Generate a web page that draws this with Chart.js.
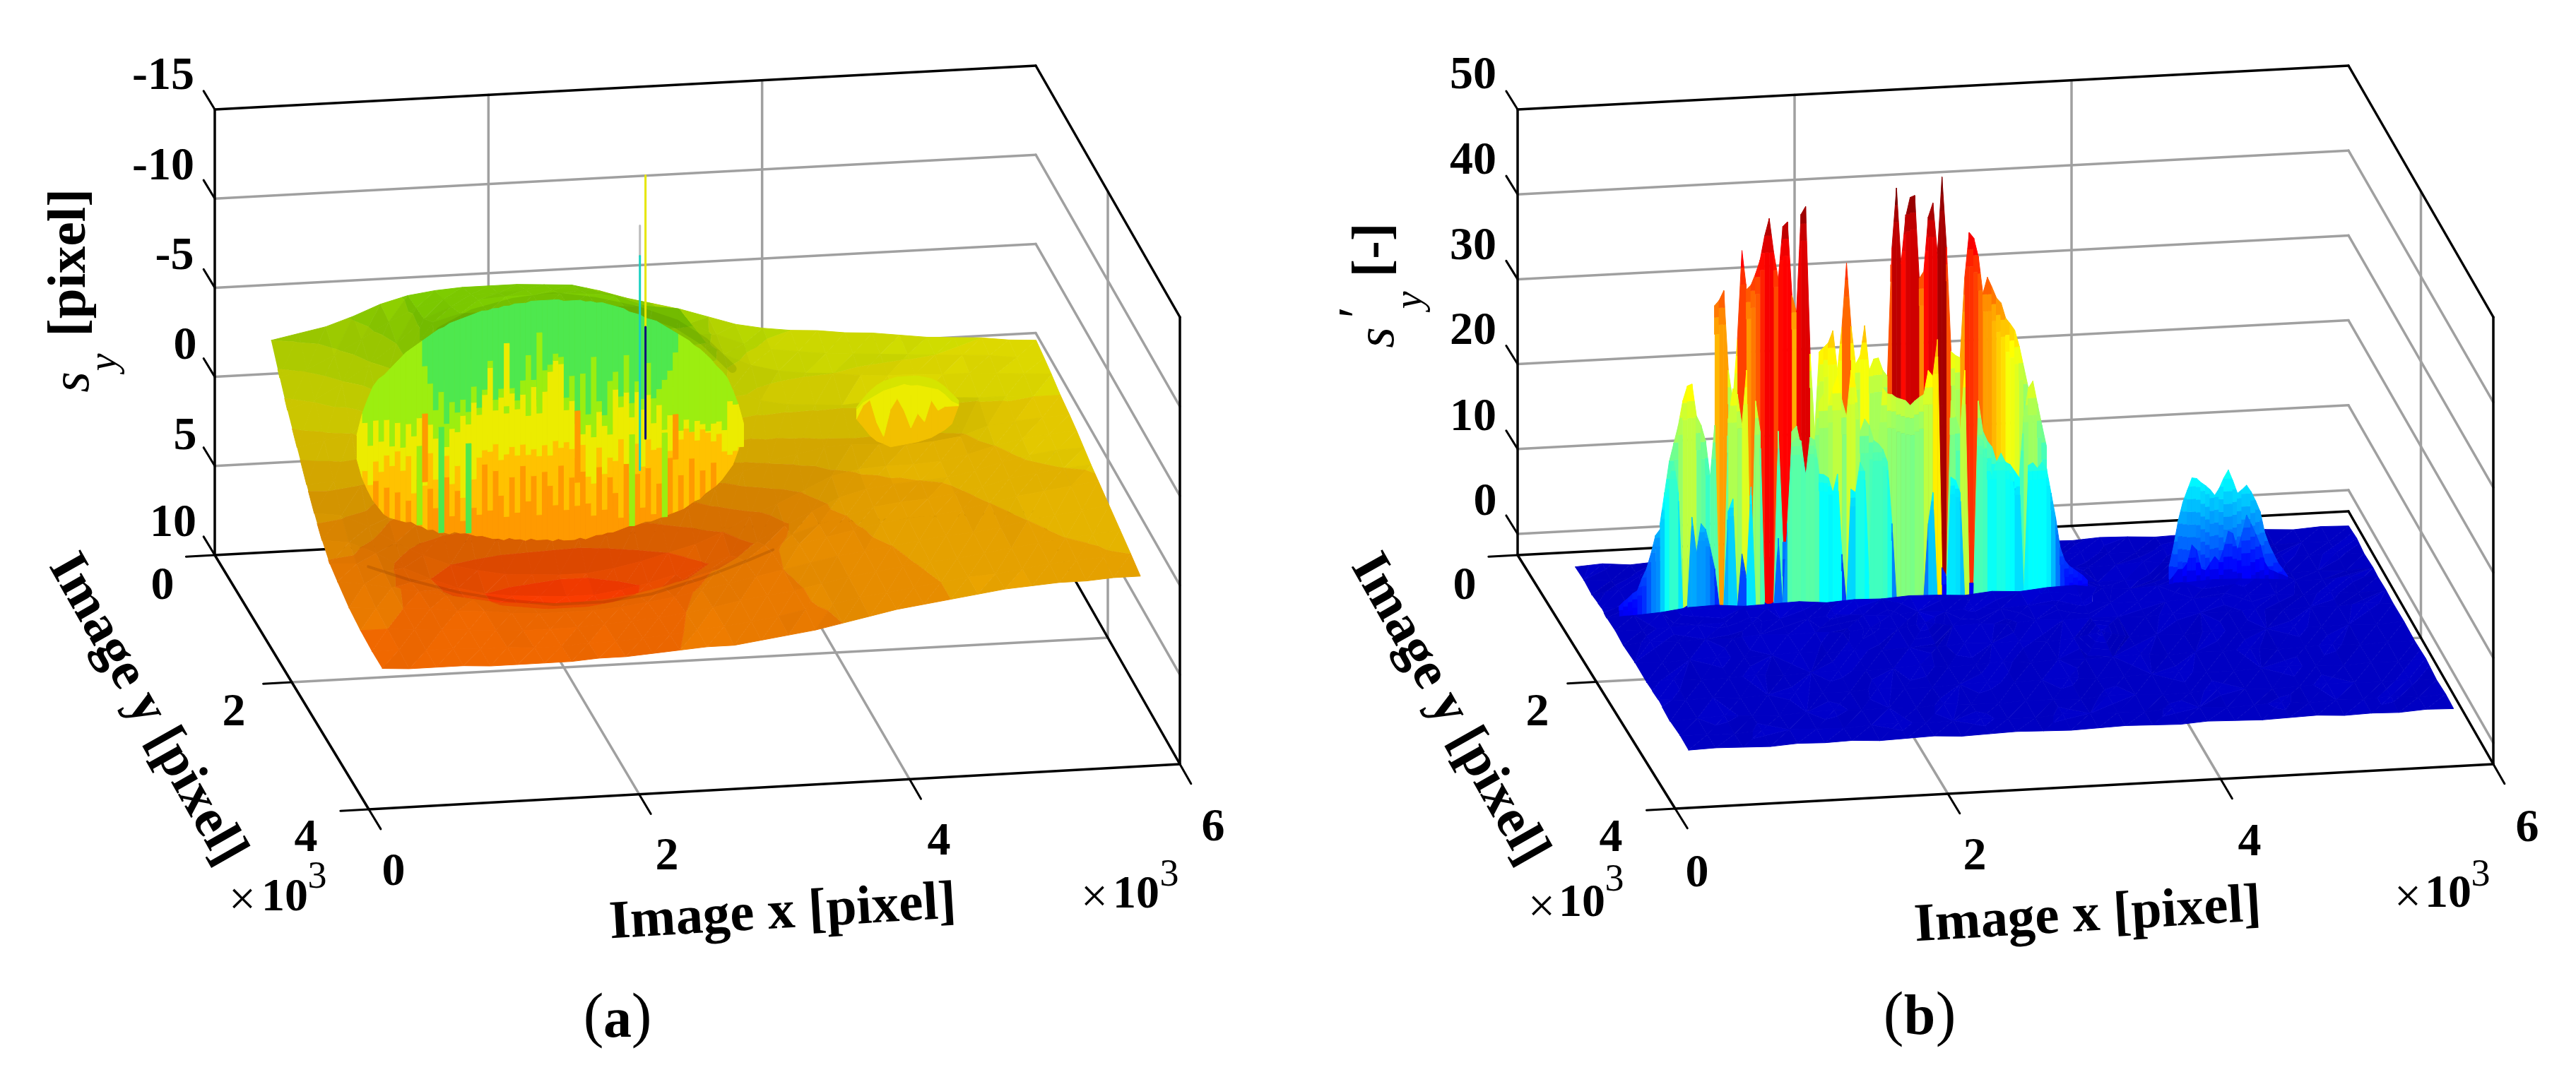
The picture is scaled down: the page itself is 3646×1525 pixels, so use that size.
<!DOCTYPE html>
<html><head><meta charset="utf-8">
<style>html,body{margin:0;padding:0;background:#fff}canvas{position:absolute;top:0}</style>
<script src="https://cdn.jsdelivr.net/npm/chart.js@4"></script>
</head><body>
<canvas id="pa" width="1823" height="1525" style="left:0"></canvas>
<canvas id="pb" width="1823" height="1525" style="left:1823px"></canvas>
<script>
// ---------- data: shared axes ----------
const xTicks=[0,2,4,6];
const yTicks=[0,2,4];
const zTicksA=[-15,-10,-5,0,5,10];
const zTicksB=[0,10,20,30,40,50];
const gridX=[250,450,650,850,1050,1250,1450,1650,1850,2050,2250,2450,2650,2850,3050,3250,3450,3650,3850,4050,4250,4450,4650,4850,5050,5250,5450,5650,5850];

// ---------- panel (a): surface s_y ----------
const rowsA=[577,800,1000,1250,1500,1700,1900,2100,2300,2600,2900,3200,3468];
const surfaceA=[
[-4.0,-4.3,-4.6,-5.1,-5.7,-6.1,-6.3,-6.4,-6.4,-6.4,-6.3,-6.2,-5.8,-5.3,-4.9,-4.5,-4.0,-3.5,-3.2,-3.0,-2.9,-2.7,-2.6,-2.4,-2.2,-2.1,-2.0,-1.8,-1.7],
[-2.7,-3.1,-3.8,-4.6,-5.5,-6.2,-6.6,-6.8,-6.8,-6.9,-6.8,-6.7,-6.4,-5.8,-5.2,-4.5,-3.8,-3.2,-2.8,-2.6,-2.4,-2.3,-2.2,-2.1,-2.0,-1.9,-1.8,-1.6,-1.5],
[-1.6,-2.1,-2.9,-3.9,-5.0,-6.3,-6.9,-7.2,-7.3,-7.3,-7.3,-7.2,-7.0,-6.4,-5.6,-4.6,-3.4,-2.7,-2.3,-2.1,-2.0,-1.8,-1.7,-1.7,-1.6,-1.6,-1.5,-1.4,-1.3],
[-0.4,-0.7,-1.0,-2.5,-5.0,-7.0,-7.4,-7.4,-7.4,-7.4,-7.4,-7.4,-7.3,-7.2,-7.0,-5.0,-2.4,-1.6,-1.3,-1.2,-1.1,-1.2,-1.4,-1.4,-1.2,-1.1,-1.1,-1.0,-1.0],
[0.8,0.7,1.0,2.9,3.4,3.9,4.1,4.4,4.5,4.6,4.7,4.5,4.2,3.8,3.3,2.3,1.4,0.9,0.6,0.3,0.2,0.3,0.4,0.3,0.1,-0.4,-0.6,-0.7,-0.8],
[1.7,1.9,2.6,3.6,4.4,5.0,5.4,5.7,5.8,5.9,5.9,5.7,5.4,5.0,4.6,4.0,3.2,2.6,1.9,1.2,0.9,0.8,0.8,0.7,0.4,0.0,-0.3,-0.5,-0.6],
[2.5,2.7,3.4,4.3,5.0,5.6,6.0,6.2,6.3,6.4,6.4,6.2,5.9,5.5,5.1,4.6,3.9,3.1,2.4,1.7,1.3,1.1,1.0,0.9,0.6,0.2,-0.1,-0.3,-0.35],
[3.1,3.2,3.7,4.4,4.9,5.5,6.0,6.2,6.3,6.4,6.3,6.1,5.7,5.1,4.6,4.0,3.4,2.9,2.4,2.0,1.6,1.4,1.3,1.1,0.8,0.4,0.2,0.0,-0.1],
[3.4,3.6,3.9,4.2,4.5,4.8,5.1,5.2,5.3,5.3,5.2,5.0,4.7,4.3,3.9,3.5,3.1,2.7,2.4,2.1,1.8,1.6,1.5,1.3,1.0,0.7,0.5,0.3,0.1],
[3.8,3.9,4.0,4.1,4.3,4.4,4.6,4.7,4.7,4.7,4.6,4.4,4.2,3.9,3.6,3.3,3.0,2.7,2.4,2.2,2.0,1.8,1.6,1.5,1.3,1.0,0.8,0.6,0.4],
[4.0,4.0,4.1,4.2,4.3,4.4,4.5,4.5,4.5,4.4,4.3,4.2,4.0,3.8,3.5,3.3,3.1,2.8,2.5,2.3,2.1,1.9,1.8,1.6,1.4,1.2,1.0,0.9,0.7],
[4.1,4.1,4.2,4.2,4.3,4.3,4.4,4.4,4.3,4.3,4.2,4.1,3.9,3.8,3.6,3.4,3.1,2.9,2.6,2.4,2.2,2.0,1.8,1.7,1.5,1.3,1.2,1.1,1.0],
[4.1,4.2,4.2,4.2,4.3,4.3,4.3,4.3,4.2,4.2,4.1,4.0,3.9,3.9,3.7,3.5,3.3,3.0,2.7,2.4,2.2,2.0,1.8,1.6,1.5,1.4,1.4,1.3,1.3]];
const levelsA=[-99,-7.5,-6,-5,-4,-3,-2,-1,0,1,2,3,4,5,6,99];
const bandColorsA=['#5cd020','#80d000','#94d800','#aadc00','#c0e000','#d4e000','#e2dc00','#e8cc00','#eab800','#eaa400','#ec9000','#ee7c00','#f06800','#f45000','#fa3c00'];

// large crater wall (row y=1500)
const wallRowY=1500;
const wallX=[618,658,698,738,778,818,858,898,938,978,1018,1058,1098,1138,1178,1218,1258,1298,1338,1378,1418,1458,1498,1538,1578,1618,1658,1698,1738,1778,1818,1858,1898,1938,1978,2018,2058,2098,2138,2178,2218,2258,2298,2338,2378,2418,2458,2498,2538,2578,2618,2658,2698,2738,2778,2818,2858,2898,2938,2978,3018,3058,3098,3138,3178,3218,3258,3298,3338,3378,3418,3458];
const wallBot=[-0.5,0.6,1.3,1.9,2.3,2.7,2.9,3.0,3.1,3.2,3.2,3.4,3.5,3.7,3.7,3.9,3.9,4.0,3.9,4.0,4.0,4.1,4.2,4.2,4.3,4.4,4.4,4.5,4.4,4.5,4.5,4.6,4.5,4.6,4.6,4.6,4.7,4.6,4.7,4.7,4.7,4.6,4.7,4.6,4.5,4.5,4.4,4.4,4.3,4.2,4.1,4.1,4.0,3.9,3.9,3.8,3.7,3.6,3.5,3.4,3.3,3.1,2.9,2.8,2.5,2.3,2.1,1.8,1.4,1.0,0.2,-0.8];
const wallOrange=[-0.5,0.6,1.3,0.8,2.3,1.2,2.9,1.5,3.1,2.0,3.2,0.9,3.5,1.4,2.5,3.9,0.8,3.0,1.6,3.3,1.2,2.6,3.0,0.2,2.8,0.6,2.0,3.2,1.0,3.0,0.4,2.4,1.0,3.2,0.8,1.6,2.7,0.5,3.0,1.2,2.8,0.9,2.7,3.4,0.7,3.1,1.3,2.2,3.6,0.6,3.4,1.2,3.1,0.9,3.5,1.8,2.6,0.4,3.5,1.4,3.3,0.5,2.9,1.2,2.5,0.8,2.1,1.8,1.4,1.0,0.2,-0.8];
const wallAmber=[-0.5,0.2,1.0,-0.3,0.3,-0.6,0.0,-0.8,0.3,-0.5,1.6,-0.4,1.2,-0.6,0.9,1.4,-0.4,1.2,0.2,2.0,0.6,1.0,-0.2,-0.6,-0.5,-0.9,0.0,-0.3,-0.7,-0.2,-0.8,-0.2,-0.5,-0.1,-0.7,-0.1,-0.9,-0.5,-0.8,-0.4,0.1,-0.6,1.2,1.6,-0.4,1.1,0.2,0.4,-0.8,0.6,1.1,-0.5,0.8,-0.7,-0.1,-0.2,-0.8,0.0,-1.2,-0.6,-1.2,-1.3,-0.5,-1.1,-0.9,-0.4,-0.8,0.2,0.4,0.2,0.0,-0.8];
const wallYellow=[-1.8,-2.5,-1.2,-2.6,-1.4,-2.6,-1.1,-2.4,-1.0,-2.3,-1.6,-2.6,-1.0,-2.2,-1.4,-2.0,-0.9,-1.9,-1.7,-2.6,-2.1,-3.3,-2.6,-3.7,-5.2,-2.8,-3.5,-2.6,-3.7,-2.8,-3.6,-2.4,-4.0,-2.9,-3.7,-4.8,-5.4,-5.2,-2.6,-3.1,-1.8,-1.2,-1.7,-1.0,-2.4,-1.6,-1.1,-3.6,-2.6,-3.4,-2.0,-3.4,-2.4,-3.2,-1.6,-2.6,-1.2,-2.0,-1.6,-1.1,-1.7,-1.0,-1.6,-1.4,-1.0,-1.4,-1.5,-1.0,-2.6,-2.4,-2.4,-1.3];
const wallLime=[-1.8,-3.0,-3.8,-4.5,-4.9,-5.1,-5.4,-5.7,-6.0,-6.3,-6.5,-6.7,-5.5,-4.5,-3.0,-4.0,-2.2,-3.4,-2.8,-3.5,-2.8,-4.2,-3.0,-4.0,-5.6,-3.4,-4.0,-5.2,-4.0,-3.3,-4.4,-5.8,-4.4,-3.3,-4.9,-5.2,-5.8,-5.6,-3.3,-4.5,-2.5,-4.6,-2.3,-5.5,-3.0,-2.2,-4.1,-4.6,-3.2,-5.5,-2.8,-4.0,-3.0,-5.0,-3.0,-3.5,-4.0,-4.5,-5.5,-6.5,-6.3,-6.1,-5.8,-5.6,-5.3,-5.0,-4.6,-4.3,-3.9,-3.2,-2.4,-1.3];
const wallTop=[-1.8,-3.0,-3.8,-4.5,-4.9,-5.1,-5.4,-5.7,-6.0,-6.3,-6.5,-6.7,-6.9,-7.1,-7.3,-7.5,-7.6,-7.8,-7.9,-8.0,-8.1,-8.2,-8.3,-8.4,-8.4,-8.5,-8.5,-8.6,-8.6,-8.7,-8.7,-8.7,-8.8,-8.8,-8.8,-8.8,-8.8,-8.8,-8.7,-8.7,-8.7,-8.7,-8.6,-8.6,-8.5,-8.5,-8.4,-8.3,-8.2,-8.1,-7.9,-7.8,-7.7,-7.5,-7.4,-7.3,-7.1,-6.9,-6.7,-6.5,-6.3,-6.1,-5.8,-5.6,-5.3,-5.0,-4.6,-4.3,-3.9,-3.2,-2.4,-1.3];
const wallColors=['#ff9a00','#ffc200','#ecec00','#9cee10','#4ee84e'];
const streakCol=[11,15,20,50,56,12,40,58,27,33];
const streakFrom=[3.4,3.9,4.0,4.1,3.7,1.0,1.5,0.5,-3.0,-2.5];
const streakTo=[-1.0,-2.0,-1.0,-1.0,-1.0,-2.8,-2.5,-2.0,-6.5,-7.0];
const streakColors=['#9cee10','#4ee84e','#4ee84e','#9cee10','#9cee10','#ff9a00','#ff9a00','#ff9a00','#ecec00','#9cee10'];

// small crater wall (row y=1300)
const smallRowY=1300;
const smallX=[4340,4390,4440,4490,4540,4590,4640,4690,4740,4790,4840,4890,4940,4990,5040,5090];
const smallBot=[-0.47,0.0,0.5,0.83,1.0,1.2,1.15,1.1,1.05,1.0,0.9,0.8,0.6,0.4,0.1,-0.9];
const smallMid=[-0.47,-1.2,-1.5,-0.2,0.6,-0.9,-1.5,-0.8,0.2,-0.6,-0.1,-1.3,-0.7,-0.9,-0.9,-0.9];
const smallUpper=[-1.0,-1.4,-1.6,-1.8,-2.0,-2.1,-2.2,-2.3,-2.2,-2.2,-2.1,-2.0,-1.9,-1.6,-1.2,-1.0];
const smallTop=[-1.1,-1.6,-2.0,-2.3,-2.5,-2.6,-2.7,-2.7,-2.7,-2.7,-2.6,-2.5,-2.3,-2.0,-1.6,-1.2];
const smallColors=['#f2c000','#ecec00','#d6e400'];

// outlier needles
const needleX=[2738,2738,2697,2697];
const needleFrom=[-15.5,-7,-12.7,-11];
const needleTo=[-7,-0.75,-11,1];
const needleColors=['#e6e600','#10107a','#bcbcbc','#18d0c0'];

// shaded ridges
const arcY=2150;
const arcX=[520,816,1176,1530,1890,2250,2604,2964,3318,3498];
const arcZ=[3.2,4.05,4.9,5.5,5.9,5.9,5.6,4.9,4.0,3.5];
const rimShadeX=[1230,1470,1766,2062,2366,2660,2961,3170,3376];
const rimShadeZ=[-7.4,-8.3,-8.8,-9.0,-8.6,-8.0,-7.1,-6.0,-4.4];

// ---------- panel (b): surface s'_y ----------
const rowsB=[577,800,1000,1250,1380,1600,1800,2100,2400,2700,3000,3250,3468];
const surfaceB=[
[.2,.4,.1,.3,.5,.2,.3,.1,.4,.2,.3,.5,.1,.3,.2,.4,.1,.3,.2,.4,.3,.1,.2,.4,.2,.3,.1,.3,.2],
[.3,.1,.4,.2,.3,.5,.3,.2,.3,.4,.2,.3,.4,.3,.5,.2,.4,.2,.5,.2,.1,.4,.3,.2,.5,.1,.3,.2,.4],
[.1,.5,.2,.4,.3,.4,.6,.5,.4,.5,.6,.4,.5,.6,.4,.5,.3,.4,.2,.3,.5,.2,.4,.3,.1,.4,.2,.4,.1],
[.4,.2,.3,.6,.7,.8,.7,.9,.8,.7,.9,.8,.7,.8,.9,.7,.8,.6,.3,.4,.2,.5,.6,.7,.5,.2,.3,.1,.3],
[.2,.3,.5,.9,1.0,.7,.8,.9,.6,.8,.7,.9,.8,.6,.9,.7,1.0,1.1,.6,.3,.5,.7,.9,.8,.6,.3,.2,.4,.2],
[.3,.2,.4,.5,.6,.4,.7,.5,.8,.6,.4,.7,.5,.8,.5,.7,.6,.8,.5,.4,.3,.5,.4,.6,.5,.2,.4,.1,.3],
[.1,.4,.2,.3,.2,.5,.3,.4,.2,.6,.3,.9,.3,.4,.2,.5,.3,.4,.3,.2,.4,.3,.2,.4,.1,.3,.2,.4,.2],
[.3,.1,.3,.4,.2,.3,.5,.2,.4,.2,.3,.2,.5,.3,.4,.2,.4,1.0,.2,.3,.1,.4,.2,.3,.4,.2,.3,.1,.3],
[.2,.4,.1,.2,.4,.1,.3,.4,.2,.3,.5,.1,.2,.4,.1,.3,.2,.3,.4,.1,.3,.2,.4,.1,.2,.4,.1,.3,.2],
[.4,.2,.3,.1,.3,.4,.2,.1,.4,.2,.1,.3,.4,.2,.3,.4,.1,.2,.3,.4,.2,.1,.3,.4,.2,.1,.3,.2,.4],
[.1,.3,.4,.2,.1,.3,.4,.2,.3,.1,.4,.2,.1,.3,.2,.1,.4,.3,.1,.2,.4,.3,.1,.2,.4,.3,.2,.4,.1],
[.3,.2,.1,.4,.3,.2,.1,.3,.4,.2,.3,.4,.2,.1,.4,.3,.2,.1,.4,.3,.1,.2,.4,.1,.3,.2,.4,.1,.3],
[.2,.3,.2,.1,.3,.2,.3,.1,.2,.3,.1,.2,.3,.2,.1,.2,.3,.2,.1,.3,.2,.1,.2,.3,.1,.2,.1,.3,.2]];
const levelsB=[-1,-.1,.1,.3,.5,.7,.9,1.1,1.3,9];
const profileRowY=1380;
const profileRimZ=0.2;
const profileX=[343,376,409,442,475,508,541,574,607,640,673,706,739,772,805,838,871,904,937,970,1003,1036,1069,1102,1135,1168,1201,1234,1267,1300,1333,1366,1399,1432,1465,1498,1531,1564,1597,1630,1663,1696,1729,1762,1795,1828,1861,1894,1927,1960,1993,2026,2059,2092,2125,2158,2191,2224,2257,2290,2323,2356,2389,2422,2455,2488,2521,2554,2587,2620,2653,2686,2719,2752,2785,2818,2851,2884,2917,2950,2983,3016,3049,3082,3115,3148,3181,3214,3247,3280,3313,3346,3379,3412,3445,3478,3511,3544,3577,3610,3643,3676,3709,3742];
const rearStart=21;
const rearProfile=[36.3,36.9,38,28.6,24.9,32.2,42.6,38,38.5,39.8,41.4,44.2,46.2,42.1,39,45.2,45.7,37,35,46.5,47.4,30,20.8,30.2,30.7,31.2,32.6,27.9,33,40.5,33,28.5,29.5,33,27.7,29,29.1,27.6,26.9,42,49,40,45.5,47.8,48,38.2,39,45.4,47,41,50,41.7,29.4,28.9,28.6,38,43.3,42.6,40.4,36,37.9,36.7,35.4,34.8,33,32.3,31.5,29.6,27.1,24.6];
const midStart=9;
const midProfile=[11,14.6,18.2,20.3,22.4,25.3,27,27.2,23.4,22.3,20.4,16.1,22.2,0.8,0.8,22.9,26.4,25.7,22,28.5,1.5,24.8,21.2,1,0.6,1,21.1,8,8,21,21.6,19.1,15.9,17.3,19.7,24.4,25.2,23.6,25.8,27.2,24.3,22.4,27.8,26,20.5,22,21.2,19.4,19,25.5,24.8,24.7,24.3,24.1,23.9,23.3,23.8,24.2,24.5,27.3,26.6,30.9,4,3,23.6,21.7,19.9,27.1,2,2,23.4,19.8,18.6,17.9,16.1,16.7,16,15.7,14.9,14.1,21.3,24.6,25.4,22.7,20.1,17.6];
const frontProfile=[1.5,2,2.4,2.9,3.2,4.6,5.7,7.5,9.6,10.3,13.5,16,18.1,14.5,.8,1.1,11.5,7.2,10.7,10,7.8,5.3,.9,.9,12,13.4,.4,6.9,4,14.7,.7,.3,.2,.1,.1,8.5,.1,10.2,19.6,20.2,19.8,15.5,20.2,19.8,15.8,15.7,15.3,13.5,15.7,6.2,.2,13.8,13.4,16.9,15.8,2.5,18.9,19,18.3,16.8,9.5,.5,.3,.2,.2,.3,.6,.6,9.3,12.9,.2,.2,.2,14.6,14.2,12.7,.3,.3,.3,19.1,18.7,16.1,14.3,16.1,17.1,16,15.7,12.3,14.1,.3,15.5,15.8,15.1,15.8,15,12.1,9.2,5.6,4.1,3.4,3,2.6,2.2,1.6];
const bumpX=[4336,4369,4402,4435,4468,4501,4534,4567,4600,4633,4666,4699,4732,4765,4798,4831,4864,4897,4930,4963,4996,5029,5062,5095,5128,5161,5194];
const bumpRear=[2.8,5.2,8.1,10.2,11.6,13,12.9,12.4,12,11.5,10.8,11.6,12.8,13.7,12.4,10.9,11.3,11.8,11,9.9,8.6,6.1,4.6,3.5,2.4,1.7,.9];
const bumpFront=[1,1.6,2.3,2.3,3,5.1,4.5,2.2,2,2.8,3.6,3,4.4,6.5,6.2,4.2,6,8.3,7.2,6,4.7,2.6,1.7,1.5,1.2,1,.7];

// ---------- layout (pixels) ----------
const cornersA=[[304,786],[1466,724],[522,1146],[1670,1082],[304,155],[1466,93],[522,515],[1670,449]];
const cornersB=[[2148,786],[3324,724],[2371,1145],[3529,1082],[2148,155],[3324,93],[2371,514],[3529,449]];
const F='"Liberation Serif"';
const BOLD='bold 66px '+F, TITLE='bold 77px '+F, REG='68px '+F, SUP='54px '+F, ITAL='italic 76px '+F, SUB='italic 56px '+F, CAP='86px '+F, CAPB='bold 80px '+F;
const textA=[
['-15',231,109,0,BOLD],['-10',231,237,0,BOLD],['-5',247,364,0,BOLD],['0',262,491,0,BOLD],['5',262,619,0,BOLD],['10',245,742,0,BOLD],
['0',230,831,0,BOLD],['2',331,1010,0,BOLD],['4',433,1188,0,BOLD],['×',343,1277,0,REG],['10',403,1272,0,BOLD],['3',449,1243,0,SUP],
['0',557,1236,0,BOLD],['2',944,1214,0,BOLD],['4',1329,1193,0,BOLD],['6',1717,1173,0,BOLD],['×',1549,1273,0,REG],['10',1608,1268,0,BOLD],['3',1655,1240,0,SUP],
['Image x [pixel]',1108,1294,-3.4,TITLE],['Image y [pixel]',207,1005,60.5,TITLE],
['[pixel]',100,372,-90,TITLE],['s',105,541,-90,ITAL],['y',149,513,-90,SUB],
['(',840,1443,0,CAP],['a',874,1447,0,CAPB],[')',908,1443,0,CAP]];
const textB=[
['50',2085,108,0,BOLD],['40',2085,229,0,BOLD],['30',2085,350,0,BOLD],['20',2085,470,0,BOLD],['10',2085,592,0,BOLD],['0',2102,712,0,BOLD],
['0',2073,831,0,BOLD],['2',2176,1010,0,BOLD],['4',2280,1188,0,BOLD],['×',2182,1287,0,REG],['10',2239,1280,0,BOLD],['3',2285,1247,0,SUP],
['0',2402,1238,0,BOLD],['2',2795,1214,0,BOLD],['4',3184,1194,0,BOLD],['6',3577,1174,0,BOLD],['×',3408,1273,0,REG],['10',3465,1267,0,BOLD],['3',3511,1240,0,SUP],
['Image x [pixel]',2955,1298,-3.4,TITLE],['Image y [pixel]',2050,1005,60.5,TITLE],
['[-]',1946,354,-90,TITLE],['s',1952,478,-90,ITAL],['′',1926,447,-90,ITAL],['y',1997,425,-90,SUB],
['(',2680,1441,0,CAP],['b',2717,1443,0,CAPB],[')',2754,1441,0,CAP]];
const BLACK='#000000', GRAY='#a0a0a0';

// ---------- helpers ----------
function projector(c,zBot,zTop){
  const mix=(a,b,t)=>[a[0]+(b[0]-a[0])*t,a[1]+(b[1]-a[1])*t];
  return (x,y,z)=>{
    const u=x/6000,v=y/4000,w=(z-zBot)/(zTop-zBot);
    const low=mix(mix(c[0],c[1],u),mix(c[2],c[3],u),v);
    const high=mix(mix(c[4],c[5],u),mix(c[6],c[7],u),v);
    return mix(low,high,w);
  };
}
function Layer(P){
  this.P=P;this.sets=[];
  this.poly=(pts,color)=>{
    let last=this.sets[this.sets.length-1];
    if(!last||!last.fill||last.backgroundColor!==color){
      last={data:[],showLine:true,fill:'shape',backgroundColor:color,borderColor:color,borderWidth:1,pointRadius:0,tension:0,spanGaps:false};
      this.sets.push(last);
    }else last.data.push({x:null,y:null});
    for(const p of pts){const q=P(p[0],p[1],p[2]);last.data.push({x:q[0],y:q[1]});}
  };
  this.line=(pts,color,w)=>{
    this.sets.push({data:pts.map(p=>{const q=P(p[0],p[1],p[2]);return{x:q[0],y:q[1]};}),showLine:true,fill:false,borderColor:color,borderWidth:w,pointRadius:0,tension:0,borderCapStyle:'round'});
  };
}
function cut(poly,f){
  const r=[];
  for(let i=0;i<poly.length;i++){
    const a=poly[i],b=poly[(i+1)%poly.length],fa=f(a),fb=f(b);
    if(fa>=0)r.push(a);
    if((fa>0&&fb<0)||(fa<0&&fb>0)){const t=fa/(fa-fb);r.push([a[0]+(b[0]-a[0])*t,a[1]+(b[1]-a[1])*t,a[2]+(b[2]-a[2])*t]);}
  }
  return r;
}
const clipZ=(poly,lo,hi)=>cut(cut(poly,p=>p[2]-lo),p=>hi-p[2]);
function jet(t){
  t=Math.max(0,Math.min(1,Math.round(t*128)/128));
  const c=v=>Math.round(255*Math.max(0,Math.min(1,1.5-Math.abs(4*t-v))));
  return [c(3),c(2),c(1)];
}
const rgb=a=>'rgb('+a[0]+','+a[1]+','+a[2]+')';
const hexRgb=h=>[parseInt(h.slice(1,3),16),parseInt(h.slice(3,5),16),parseInt(h.slice(5,7),16)];
const dim=(a,s)=>a.map(v=>Math.round(v*s));
function drawSurface(L,xs,ys,zz,levels,colorOf,r0,r1,slopeK,maxDim){
  for(let r=r0;r<r1;r++)for(let c=0;c<xs.length-1;c++){
    const A=[xs[c],ys[r],zz[r][c]],B=[xs[c+1],ys[r],zz[r][c+1]],C=[xs[c],ys[r+1],zz[r+1][c]],D=[xs[c+1],ys[r+1],zz[r+1][c+1]];
    for(const tri of [[A,B,C],[B,D,C]]){
      const [p,q,s]=tri;
      const ux=(q[0]-p[0])/1000,uy=(q[1]-p[1])/1000,uz=q[2]-p[2],vx=(s[0]-p[0])/1000,vy=(s[1]-p[1])/1000,vz=s[2]-p[2];
      const nx=uy*vz-uz*vy,ny=uz*vx-ux*vz,nz=ux*vy-uy*vx;
      const g=Math.hypot(nx,ny)/Math.abs(nz);
      const shade=Math.round((1-Math.min(maxDim,slopeK*g))*50)/50;
      for(let i=0;i<levels.length-1;i++){
        const pg=clipZ(tri,levels[i],levels[i+1]);
        if(pg.length>=3)L.poly(pg,rgb(dim(colorOf(i,levels),shade)));
      }
    }
  }
}
function drawBox(L,zs,zBot,zTop){
  for(const z of zs){
    if(z!==zTop&&z!==zBot){
      L.line([[0,0,z],[6000,0,z]],GRAY,3.5);
      L.line([[6000,0,z],[6000,4000,z]],GRAY,3.5);
    }
  }
  for(const t of xTicks)if(t>0&&t<6){
    L.line([[t*1000,0,zBot],[t*1000,0,zTop]],GRAY,3.5);
    L.line([[t*1000,0,zBot],[t*1000,4000,zBot]],GRAY,3.5);
  }
  for(const t of yTicks)if(t>0&&t<4){
    L.line([[6000,t*1000,zBot],[6000,t*1000,zTop]],GRAY,3.5);
    L.line([[0,t*1000,zBot],[6000,t*1000,zBot]],GRAY,3.5);
  }
  for(const s of [
    [[0,0,zTop],[6000,0,zTop]],[[6000,0,zTop],[6000,4000,zTop]],[[6000,4000,zTop],[6000,4000,zBot]],
    [[6000,4000,zBot],[0,4000,zBot]],[[0,4000,zBot],[0,0,zBot]],[[0,0,zBot],[0,0,zTop]],
    [[0,0,zBot],[6000,0,zBot]],[[6000,0,zBot],[6000,4000,zBot]]])L.line(s,BLACK,3.5);
  for(const z of zs)L.line([[0,0,z],[0,-290,z]],BLACK,3);
  for(const t of xTicks)L.line([[t*1000,4000,zBot],[t*1000,4310,zBot]],BLACK,3);
  for(const t of yTicks)L.line([[0,t*1000,zBot],[-210,t*1000,zBot]],BLACK,3);
}
function columnWall(L,xs,y,bounds,colors){
  const bot=bounds[0],top=bounds[bounds.length-1];
  for(let k=0;k<xs.length-1;k++)for(let b=0;b<colors.length;b++){
    const lo=bounds[b][k],hi=bounds[b+1][k];
    if(lo===hi)continue;
    // outer rim and top edge follow the neighbouring column; inner bands stay vertical streaks
    const lo2=lo===bot[k]?bot[k+1]:lo, hi2=hi===top[k]?top[k+1]:hi;
    L.poly([[xs[k],y,lo],[xs[k+1],y,lo2],[xs[k+1],y,hi2],[xs[k],y,hi]],colors[b]);
  }
}
function zigzagWall(L,xs,y,bounds,colors){
  for(let k=0;k<xs.length-1;k++)for(let b=0;b<colors.length;b++){
    const lo=bounds[b],hi=bounds[b+1];
    L.poly([[xs[k],y,lo[k]],[xs[k+1],y,lo[k+1]],[xs[k+1],y,hi[k+1]],[xs[k],y,hi[k]]],colors[b]);
  }
}
function strips(L,xs,zs,y,rim,boost,span,step){
  for(let k=0;k<zs.length-1;k++){
    const z1=zs[k],z2=zs[k+1],m=Math.max(z1,z2);
    if(m<=rim)continue;
    const q=[[xs[k],y,rim],[xs[k+1],y,rim],[xs[k+1],y,z2],[xs[k],y,z1]];
    const base=m-span;
    const lv=[-99,base];
    for(let v=base+step;v<m;v+=step)lv.push(v);
    lv.push(99);
    for(let i=0;i<lv.length-1;i++){
      const pg=clipZ(q,lv[i],lv[i+1]);
      if(pg.length<3)continue;
      const mid=i===0?base:(lv[i]+Math.min(lv[i+1],m))/2;
      L.poly(pg,rgb(jet((mid+boost)/50)));
    }
  }
}
function textPlugin(items){
  return {id:'labels',afterDatasetsDraw(chart){
    const c=chart.ctx,sx=chart.scales.x,sy=chart.scales.y;
    c.save();c.fillStyle='#000';c.textAlign='center';c.textBaseline='middle';
    for(const [t,x,y,rot,font] of items){
      c.save();c.translate(sx.getPixelForValue(x),sy.getPixelForValue(y));c.rotate(rot*Math.PI/180);
      c.font=font;c.fillText(t,0,0);c.restore();
    }
    c.restore();
  }};
}
function makeChart(id,sets,xMin,xMax,items){
  return new Chart(document.getElementById(id),{
    type:'scatter',
    data:{datasets:sets.slice().reverse()},
    options:{responsive:false,animation:false,devicePixelRatio:1,events:[],layout:{padding:0},
      plugins:{legend:{display:false},tooltip:{enabled:false},title:{display:false}},
      scales:{x:{type:'linear',display:false,min:xMin,max:xMax},y:{type:'linear',display:false,min:0,max:1525,reverse:true}}},
    plugins:[textPlugin(items)]
  });
}

// ---------- panel a ----------
const LA=new Layer(projector(cornersA,10,-15));
drawBox(LA,zTicksA,10,-15);
drawSurface(LA,gridX,rowsA,surfaceA,levelsA,i=>hexRgb(bandColorsA[i]),0,rowsA.length-1,.02,.1);
LA.line(arcX.map((x,i)=>[x,arcY,arcZ[i]]),'rgba(90,30,0,.17)',4);
LA.line(rimShadeX.map((x,i)=>[x,wallRowY,rimShadeZ[i]]),'rgba(30,80,0,.12)',12);
columnWall(LA,wallX,wallRowY,[wallBot,wallOrange,wallAmber,wallYellow,wallLime,wallTop],wallColors);
streakCol.forEach((k,i)=>LA.poly([[wallX[k],wallRowY,streakFrom[i]],[wallX[k+1],wallRowY,streakFrom[i]],[wallX[k+1],wallRowY,streakTo[i]],[wallX[k],wallRowY,streakTo[i]]],streakColors[i]));
zigzagWall(LA,smallX,smallRowY,[smallBot,smallMid,smallUpper,smallTop],smallColors);
needleX.forEach((x,i)=>LA.line([[x,wallRowY,needleFrom[i]],[x,wallRowY,needleTo[i]]],needleColors[i],3));
makeChart('pa',LA.sets,0,1823,textA);

// ---------- panel b ----------
const LB=new Layer(projector(cornersB,-2.5,50));
drawBox(LB,zTicksB,-2.5,50);
const colorB=(i,lv)=>jet((Math.max(-.5,Math.min(1.5,(lv[i]+lv[i+1])/2))+3.4)/50);
drawSurface(LB,gridX,rowsB,surfaceB,levelsB,colorB,0,4,.02,.14);
strips(LB,profileX.slice(rearStart,rearStart+rearProfile.length),rearProfile,profileRowY,profileRimZ,2,4,2);
strips(LB,profileX.slice(midStart,midStart+midProfile.length),midProfile,profileRowY,profileRimZ,5,4,2);
strips(LB,profileX,frontProfile,profileRowY,profileRimZ,5,2,1);
strips(LB,bumpX,bumpRear,profileRowY,profileRimZ,6,10,1.5);
strips(LB,bumpX,bumpFront,profileRowY,profileRimZ,4,6,1.5);
drawSurface(LB,gridX,rowsB,surfaceB,levelsB,colorB,4,rowsB.length-1,.02,.14);
makeChart('pb',LB.sets,1823,3646,textB);
</script>
</body></html>
